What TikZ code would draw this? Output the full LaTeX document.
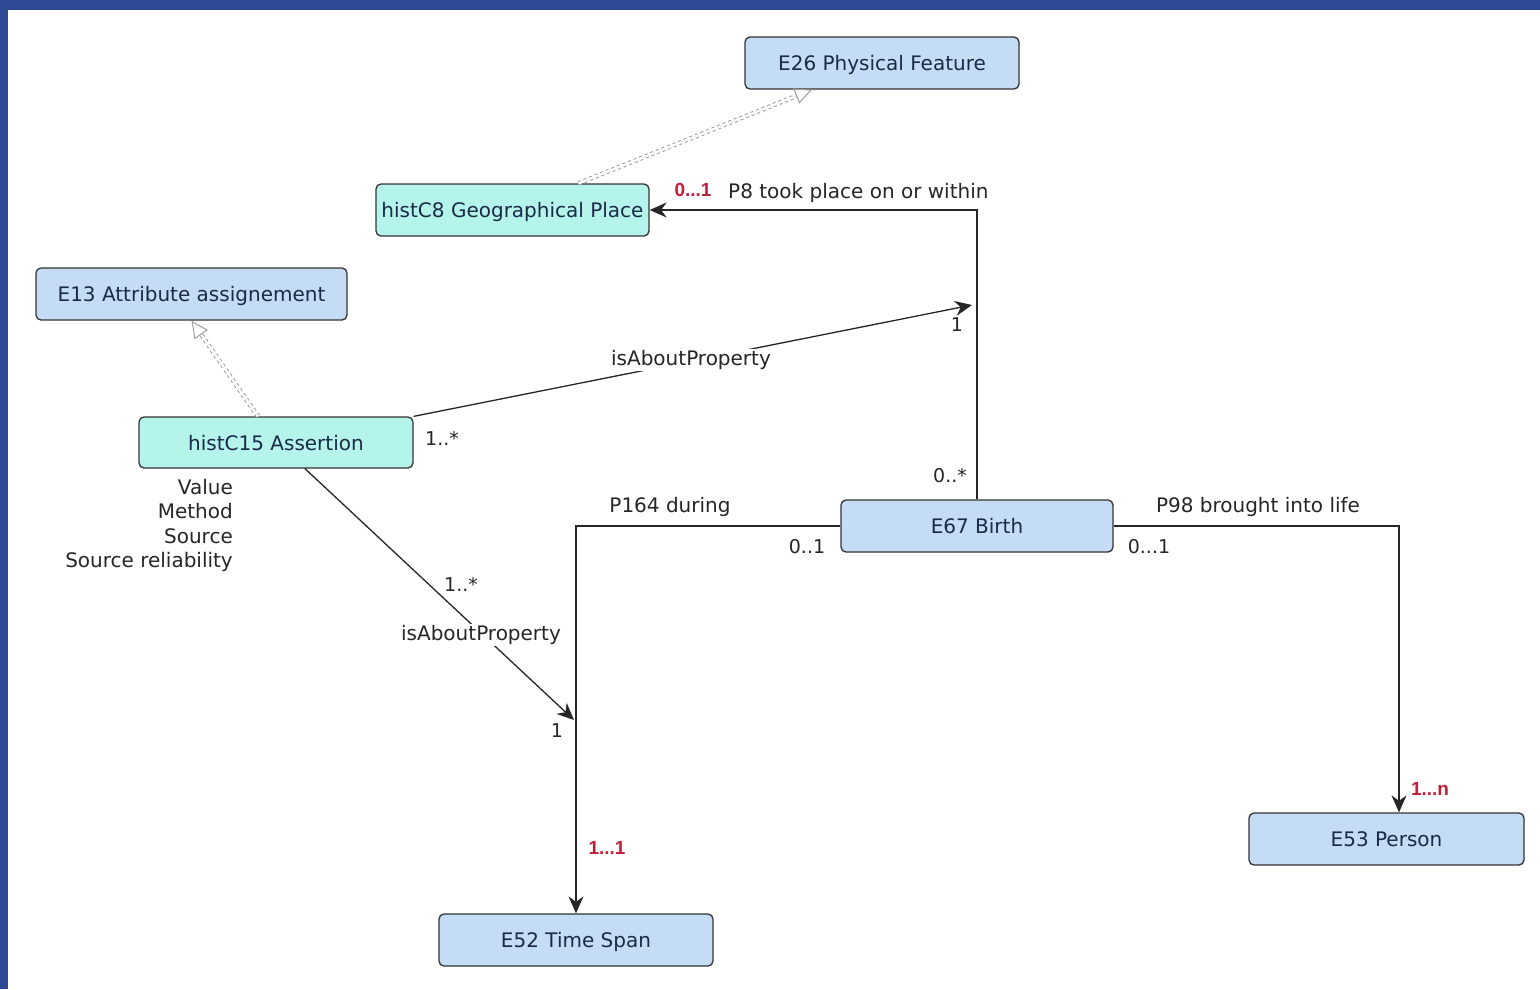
\documentclass[tikz,border=0pt]{standalone}
\usepackage{fontspec}
\setmainfont{DejaVu Sans}
\newfontfamily\redfont{Liberation Sans}
\usetikzlibrary{arrows.meta,positioning}
\definecolor{frameblue}{HTML}{2F4A94}
\definecolor{boxblue}{HTML}{C4DCF6}
\definecolor{boxcyan}{HTML}{B4F4EA}
\definecolor{boxtext}{HTML}{1B2A48}
\definecolor{cardred}{HTML}{C0203A}
\tikzset{
  cls/.style={draw=black!80, rounded corners=5pt, line width=1.3pt, minimum width=274pt, minimum height=52pt, inner sep=0pt, text depth=0pt, text=boxtext, font=\fontsize{20}{24}\selectfont},
  clsblue/.style={cls, fill=boxblue},
  clscyan/.style={cls, fill=boxcyan},
  lbl/.style={inner sep=1pt, text=black!85, font=\fontsize{20}{24}\selectfont},
  card/.style={inner sep=1pt, text=black!85, font=\fontsize{19}{22}\selectfont},
  redcard/.style={inner sep=1pt, text=cardred, font=\redfont\bfseries\fontsize{19}{22}\selectfont},
  assoc/.style={draw=black!85, line width=1.3pt, -{Stealth[length=17pt,width=15pt]}},
  general/.style={draw=gray!75, dashed, double=white, double distance=2.5pt, line width=1pt, -{Triangle[open,length=17pt,width=16pt]}}
}
\begin{document}
\begin{tikzpicture}[x=1pt,y=-1pt]
\useasboundingbox (0,0) rectangle (1540,989);
\fill[frameblue] (0,0) rectangle (1540,989);
\fill[white] (8,10) rectangle (1540,989);

% classes
\node[clsblue, minimum width=274pt] (feat) at (882,63) {E26 Physical Feature};
\node[clscyan, minimum width=273pt] (geo) at (512.5,210) {histC8 Geographical Place};
\node[clsblue, minimum width=311pt] (attr) at (191.5,294) {E13 Attribute assignement};
\node[clscyan, minimum width=274pt, minimum height=51pt] (assert) at (276,442.5) {histC15 Assertion};
\node[clsblue, minimum width=272pt] (birth) at (977,526) {E67 Birth};
\node[clsblue, minimum width=274pt] (time) at (576,940) {E52 Time Span};
\node[clsblue, minimum width=275pt] (person) at (1386.5,839) {E53 Person};

% attributes of assertion
\node[lbl, align=right, anchor=north east, font=\fontsize{20}{24.5}\selectfont] (attrs) at (234,478) {Value\\Method\\Source\\Source reliability};

% generalisations
\draw[general] ([xshift=66pt]geo.north) -- ([xshift=-70pt]feat.south);
\draw[general] ([xshift=-18pt]assert.north) -- ([xshift=0pt]attr.south);

% P8
\draw[assoc] (birth.north) |- (geo.east);
\node[redcard] (c8a) at (693,190) {0...1};
\node[lbl, anchor=west] (p8) at (727,193) {P8 took place on or within};
\node[card] (c8b) at (950,476) {0..*};

% P164
\draw[assoc] (birth.west) -| (time.north);
\node[lbl] (p164) at (670,507) {P164 during};
\node[card] (c164a) at (807,547) {0..1};
\node[redcard] (c164b) at (607,848) {1...1};

% P98
\draw[assoc] (birth.east) -| ([xshift=12.5pt]person.north);
\node[lbl] (p98) at (1258,507) {P98 brought into life};
\node[card] (c98a) at (1149,547) {0...1};
\node[redcard] (c98b) at (1430,789) {1...n};

% isAboutProperty 1
\coordinate (t1) at (972,305);
\draw[assoc] (assert.north east) -- (t1);
\node[lbl, fill=white] (ia1) at (691,360) {isAboutProperty};
\node[card] (ia1a) at (442,438) {1..*};
\node[card] (ia1b) at (957,325) {1};

% isAboutProperty 2
\coordinate (t2) at (574,720);
\draw[assoc] ([xshift=29pt]assert.south) -- (t2);
\node[lbl, fill=white] (ia2) at (481,635) {isAboutProperty};
\node[card] (ia2a) at (461,584) {1..*};
\node[card] (ia2b) at (557,731) {1};
\end{tikzpicture}
\end{document}
